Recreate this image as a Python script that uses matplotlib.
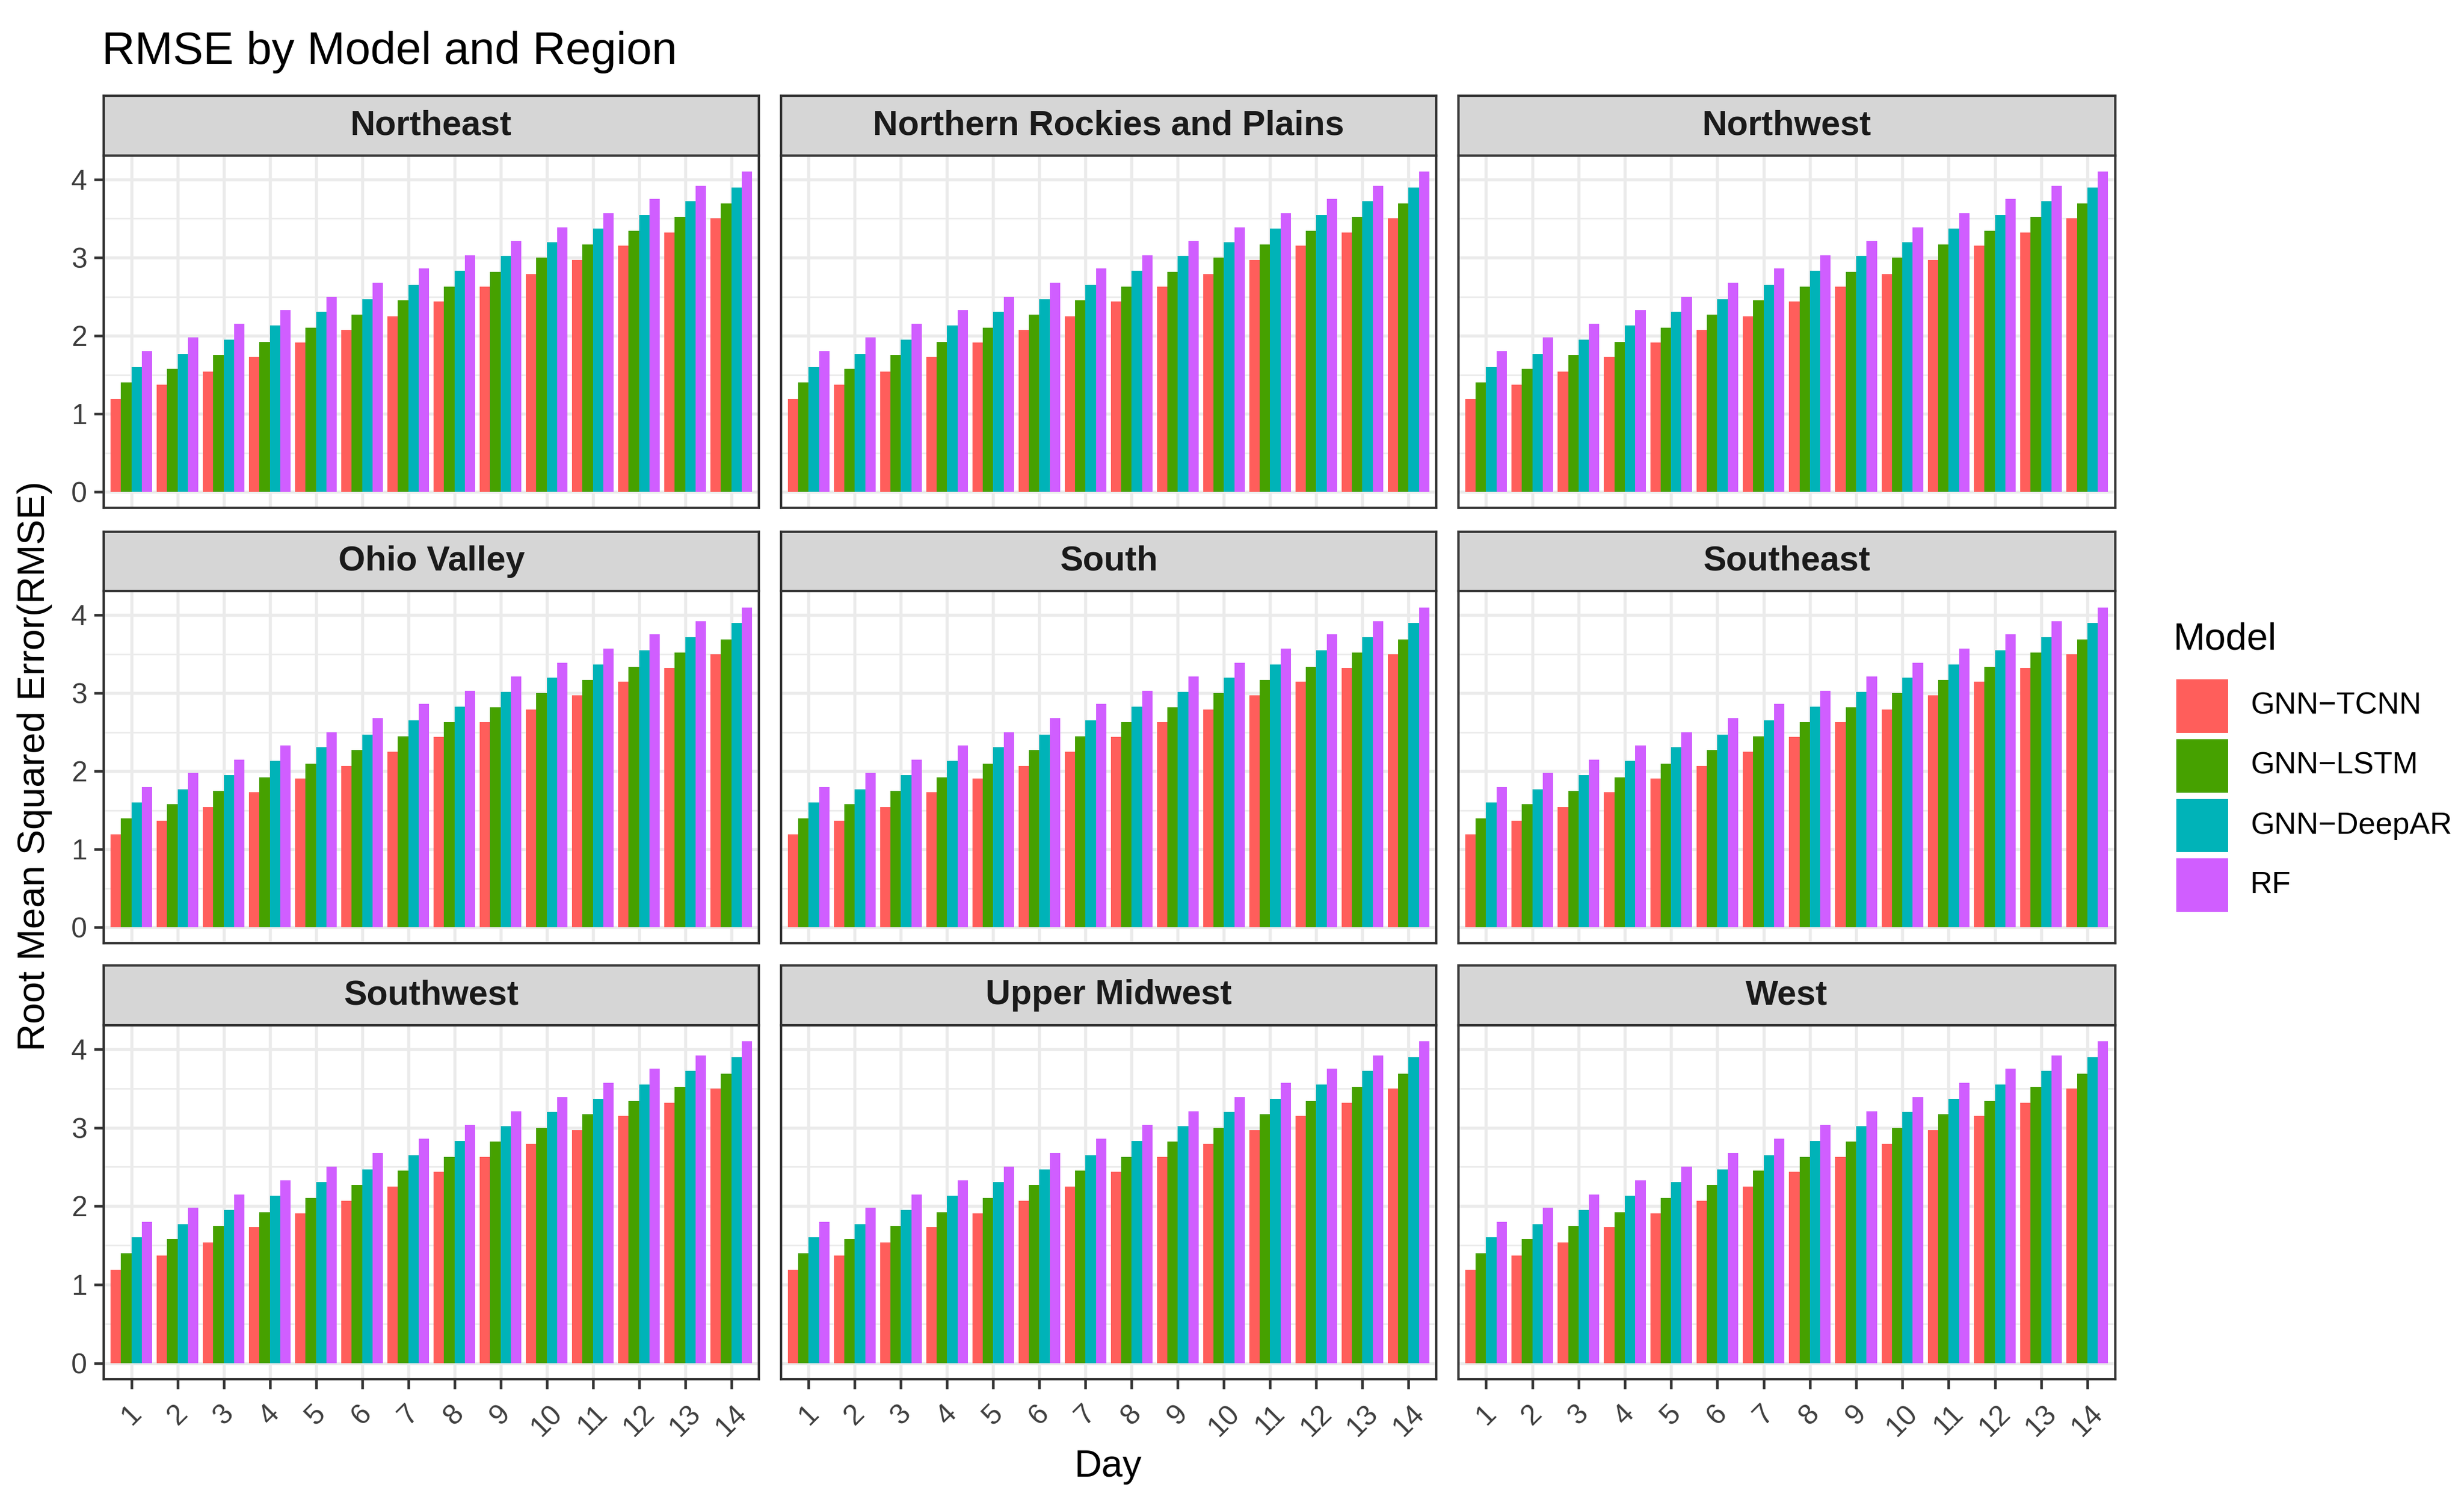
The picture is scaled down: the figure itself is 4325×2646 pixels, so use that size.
import matplotlib
matplotlib.use('Agg')
import matplotlib.pyplot as plt
from matplotlib.patches import Rectangle
import numpy as np

plt.rcParams['font.family'] = ['Liberation Sans', 'DejaVu Sans']

regions = ["Northeast", "Northern Rockies and Plains", "Northwest",
           "Ohio Valley", "South", "Southeast",
           "Southwest", "Upper Midwest", "West"]
days = list(range(1, 15))
models = ["GNN\u2212TCNN", "GNN\u2212LSTM", "GNN\u2212DeepAR", "RF"]
gnn_tcnn = [1.19, 1.37, 1.54, 1.73, 1.91, 2.07, 2.25, 2.44, 2.63, 2.79, 2.97, 3.15, 3.32, 3.50]
gnn_lstm = [1.40, 1.58, 1.75, 1.92, 2.10, 2.27, 2.45, 2.63, 2.82, 3.00, 3.17, 3.34, 3.52, 3.69]
gnn_deepar = [1.60, 1.77, 1.95, 2.13, 2.31, 2.47, 2.65, 2.83, 3.02, 3.20, 3.37, 3.55, 3.72, 3.90]
rf = [1.80, 1.98, 2.15, 2.33, 2.50, 2.68, 2.86, 3.03, 3.21, 3.39, 3.57, 3.75, 3.92, 4.10]
series = [gnn_tcnn, gnn_lstm, gnn_deepar, rf]
colors = ["#FF5E5B", "#46A100", "#00B3B8", "#D05EFF"]

W, H = 1568.0, 959.0
fig = plt.figure(figsize=(4325 / 300, 2646 / 300), dpi=300)

col_x = [(66, 483), (497, 914), (928, 1346)]
row_y = [(99, 323), (376, 600), (652, 877)]
strip_h = 38

grid_c = "#EBEBEB"
frame_c = "#333333"
tick_c = "#3D3D3D"

for i, reg in enumerate(regions):
    r, c = divmod(i, 3)
    x0, x1 = col_x[c]
    y0, y1 = row_y[r]
    ax = fig.add_axes([x0 / W, 1 - y1 / H, (x1 - x0) / W, (y1 - y0) / H])
    ax.set_facecolor('white')
    x = np.arange(1, len(days) + 1)
    bw = 0.9 / 4
    for k, (vals, col) in enumerate(zip(series, colors)):
        ax.bar(x - 0.45 + bw * (k + 0.5), vals, width=bw, color=col, zorder=3, linewidth=0)
    ax.set_xlim(0.4, 14.6)
    ax.set_ylim(-0.205, 4.305)
    ax.set_yticks([0, 1, 2, 3, 4])
    ax.set_yticks([0.5, 1.5, 2.5, 3.5], minor=True)
    ax.set_xticks(x)
    ax.grid(True, which='major', color=grid_c, linewidth=1.3, zorder=0)
    ax.grid(True, which='minor', axis='y', color=grid_c, linewidth=0.65, zorder=0)
    ax.tick_params(which='minor', length=0)
    for s in ax.spines.values():
        s.set_color(frame_c)
        s.set_linewidth(1.0)
        s.set_zorder(5)
    ax.tick_params(axis='both', which='major', color=frame_c, width=1.1, length=4,
                   labelsize=12, labelcolor=tick_c, pad=3)
    if c == 0:
        ax.set_yticklabels(["0", "1", "2", "3", "4"])
    else:
        ax.tick_params(axis='y', which='major', length=0, labelleft=False)
    if r == 2:
        ax.set_xticklabels([str(d) for d in days], rotation=45, ha='center', va='top')
        ax.tick_params(axis='x', pad=5)
    else:
        ax.tick_params(axis='x', which='major', length=0, labelbottom=False)
    # strip
    sax = fig.add_axes([x0 / W, 1 - y0 / H, (x1 - x0) / W, strip_h / H])
    sax.set_xticks([]); sax.set_yticks([])
    sax.set_facecolor("#D6D6D6")
    for s in sax.spines.values():
        s.set_color(frame_c)
        s.set_linewidth(1.0)
    sax.text(0.5, 0.5, reg, ha='center', va='center', fontsize=14.6,
             fontweight='bold', color='#1A1A1A', transform=sax.transAxes)

fig.text(65 / W, 1 - 33 / H, "RMSE by Model and Region", fontsize=19.2, ha='left', va='center')
fig.text(22 / W, 1 - 487 / H, "Root Mean Squared Error(RMSE)", fontsize=16,
         rotation=90, ha='center', va='center')
fig.text(705 / W, 1 - 933 / H, "Day", fontsize=16, ha='center', va='center')

# legend
fig.text(1383 / W, 1 - 407 / H, "Model", fontsize=16, ha='left', va='center')
key_tops = [432, 470, 508, 546]
for lab, col, kt in zip(models, colors, key_tops):
    fig.patches.append(Rectangle((1385 / W, 1 - (kt + 34) / H), 33 / W, 34 / H,
                                 transform=fig.transFigure, facecolor=col, edgecolor='none'))
    fig.text(1432 / W, 1 - (kt + 17) / H, lab, fontsize=12.9, ha='left', va='center')

fig.savefig("out.png", dpi=300, facecolor='white')
